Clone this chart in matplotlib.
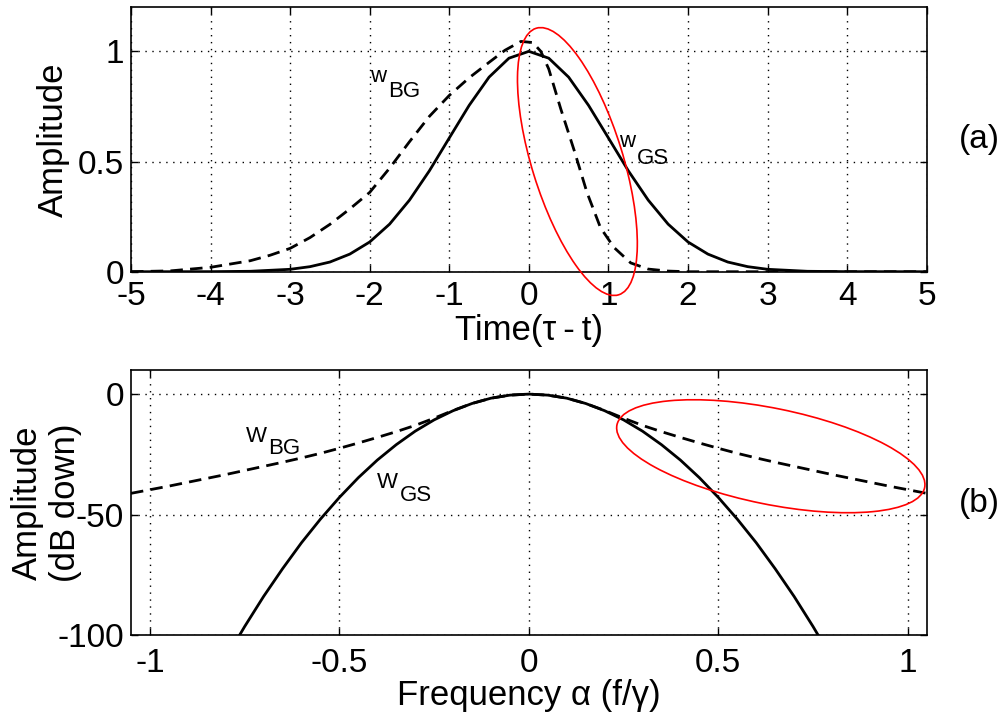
import matplotlib
matplotlib.use('Agg')
import matplotlib.pyplot as plt
from matplotlib.patches import Ellipse
from matplotlib.transforms import ScaledTranslation

plt.rcParams['font.family'] = ['Liberation Sans', 'DejaVu Sans']
plt.rcParams['axes.unicode_minus'] = False

# (a) time-domain windows
t_gs = [-5, -4, -3.5, -3, -2.75, -2.5, -2.25, -2, -1.75, -1.5, -1.25, -1, -0.75, -0.5, -0.25, 0,
        0.25, 0.5, 0.75, 1, 1.25, 1.5, 1.75, 2, 2.25, 2.5, 2.75, 3, 3.5, 4, 5]
w_gs = [0, 0.0003, 0.002, 0.011, 0.023, 0.044, 0.080, 0.135, 0.216, 0.325, 0.458, 0.607, 0.755, 0.883, 0.969, 1.0,
        0.969, 0.883, 0.755, 0.607, 0.458, 0.325, 0.216, 0.135, 0.080, 0.044, 0.023, 0.011, 0.002, 0.0003, 0]

t_bg = [-5, -4.5, -4, -3.5, -3.25, -3, -2.75, -2.5, -2.25, -2, -1.75, -1.5, -1.25, -1, -0.75, -0.5, -0.3, -0.1,
        0.05, 0.15, 0.25, 0.4, 0.57, 0.73, 0.9, 1.07, 1.28, 1.5, 1.75, 2, 3, 4, 5]
w_bg = [0, 0.004, 0.02, 0.05, 0.075, 0.106, 0.155, 0.215, 0.285, 0.36, 0.47, 0.59, 0.705, 0.80, 0.88, 0.95, 1.005, 1.045,
        1.04, 1.0, 0.92, 0.74, 0.55, 0.36, 0.2, 0.11, 0.04, 0.012, 0.003, 0, 0, 0, 0]

# (b) spectra in dB
f_gs = [-0.8, -0.75, -0.7, -0.65, -0.6, -0.55, -0.5, -0.45, -0.4, -0.35, -0.3, -0.25, -0.2, -0.15, -0.1, -0.05, 0,
        0.05, 0.1, 0.15, 0.2, 0.25, 0.3, 0.35, 0.4, 0.45, 0.5, 0.55, 0.6, 0.65, 0.7, 0.75, 0.8]
W_gs = [-109.8, -96.5, -84.0, -72.5, -61.7, -51.9, -42.9, -34.7, -27.4, -21.0, -15.4, -10.7, -6.9, -3.9, -1.7, -0.43, 0,
        -0.43, -1.7, -3.9, -6.9, -10.7, -15.4, -21.0, -27.4, -34.7, -42.9, -51.9, -61.7, -72.5, -84.0, -96.5, -109.8]

f_bg = [-1.05, -1.0, -0.95, -0.9, -0.85, -0.8, -0.75, -0.7, -0.65, -0.6, -0.55, -0.5, -0.45, -0.4, -0.35, -0.3,
        -0.25, -0.2, -0.15, -0.1, -0.05, 0, 0.05, 0.1, 0.15, 0.2, 0.25, 0.3, 0.35, 0.4, 0.45, 0.5, 0.55, 0.6,
        0.65, 0.7, 0.75, 0.8, 0.85, 0.9, 0.95, 1.0, 1.05]
W_bg = [-41.2, -39.7, -38.2, -36.6, -35.0, -33.4, -31.7, -30.0, -28.3, -26.5, -24.6, -22.5, -20.3, -18.0, -15.6, -13.0,
        -10.0, -6.8, -3.9, -1.7, -0.43, 0, -0.43, -1.7, -3.9, -6.8, -10.0, -13.0, -15.6, -18.0, -20.3, -22.5, -24.6, -26.5,
        -28.3, -30.0, -31.7, -33.4, -35.0, -36.6, -38.2, -39.7, -41.2]

xt_a = [-5, -4, -3, -2, -1, 0, 1, 2, 3, 4, 5]
xl_a = ['-5', '-4', '-3', '-2', '-1', '0', '1', '2', '3', '4', '5']
yt_a = [0, 0.5, 1]
yl_a = ['0', '0.5', '1']
xt_b = [-1, -0.5, 0, 0.5, 1]
xl_b = ['-1', '-0.5', '0', '0.5', '1']
yt_b = [-100, -50, 0]
yl_b = ['-100', '-50', '0']

TICK_FS = 24
LABEL_FS = 25
ANN_FS = 16
dash = (0, (4.5, 2.6))
grid_ls = (0, (1, 4))


def style(ax, xt, xl, yt, yl, xpad):
    ax.set_xticks(xt)
    ax.set_xticklabels(xl)
    ax.set_yticks(yt)
    ax.set_yticklabels(yl)
    ax.tick_params(direction='in', top=True, right=True, length=5, width=1,
                   labelsize=TICK_FS)
    ax.tick_params(axis='x', pad=xpad)
    ax.tick_params(axis='y', pad=5)
    ax.grid(True, color='black', linestyle=grid_ls, linewidth=1.0)
    for s in ax.spines.values():
        s.set_linewidth(1.2)


def sublabel(ax, x, y, base, sub, dx, dy):
    ax.text(x, y, base, fontsize=ANN_FS, ha='left', va='baseline')
    ax.annotate(sub, xy=(x, y), xytext=(dx, dy), textcoords='offset pixels',
                fontsize=ANN_FS, ha='left', va='baseline')


def ring(ax, cx, cy, w, h, ang):
    tr = fig.dpi_scale_trans + ScaledTranslation(cx, cy, ax.transData)
    e = Ellipse((0, 0), w, h, angle=ang, transform=tr, fill=False,
                edgecolor='red', linewidth=1.2, clip_on=False, zorder=5)
    ax.add_patch(e)


fig = plt.figure(figsize=(10.06, 7.2), dpi=100)

ax1 = fig.add_axes([0.1302, 0.6226, 0.7910, 0.3673])
ax1.plot(t_gs, w_gs, color='black', linewidth=2.0)
ax1.plot(t_bg, w_bg, color='black', linewidth=2.0, linestyle=dash)
ax1.set_xlim(-5, 5)
ax1.set_ylim(0, 1.2)
style(ax1, xt_a, xl_a, yt_a, yl_a, 6.7)
ax1.set_xlabel('Time(\u03c4\u2009-\u2009t)', fontsize=LABEL_FS)
ax1.set_ylabel('Amplitude', fontsize=LABEL_FS)
ax1.xaxis.set_label_coords(0.5, -0.16)
ax1.yaxis.set_label_coords(-0.077, 0.5)
sublabel(ax1, -1.99, 0.862, 'w', 'BG', 18, -15)
sublabel(ax1, 1.13, 0.568, 'w', 'GS', 18, -17)
ring(ax1, 0.61, 0.50, 0.91, 2.79, 17.2)

ax2 = fig.add_axes([0.1302, 0.1181, 0.7910, 0.3680])
ax2.plot(f_gs, W_gs, color='black', linewidth=2.0)
ax2.plot(f_bg, W_bg, color='black', linewidth=2.0, linestyle=dash)
ax2.set_xlim(-1.05, 1.05)
ax2.set_ylim(-100, 10)
style(ax2, xt_b, xl_b, yt_b, yl_b, 9.5)
ax2.set_xlabel('Frequency \u03b1 (f/\u03b3)', fontsize=LABEL_FS)
ax2.set_ylabel('Amplitude\n(dB down)', fontsize=LABEL_FS)
ax2.xaxis.set_label_coords(0.5, -0.168)
ax2.yaxis.set_label_coords(-0.062, 0.5)
sublabel(ax2, -0.7475, -19.7, 'W', 'BG', 23, -12)
sublabel(ax2, -0.40, -39.0, 'W', 'GS', 23, -13)
ring(ax2, 0.6385, -25.8, 3.14, 0.96, -11.5)

fig.text(0.974, 0.806, '(a)', fontsize=24, ha='center', va='center')
fig.text(0.974, 0.301, '(b)', fontsize=24, ha='center', va='center')

fig.savefig('out.png', dpi=100, facecolor='white')
